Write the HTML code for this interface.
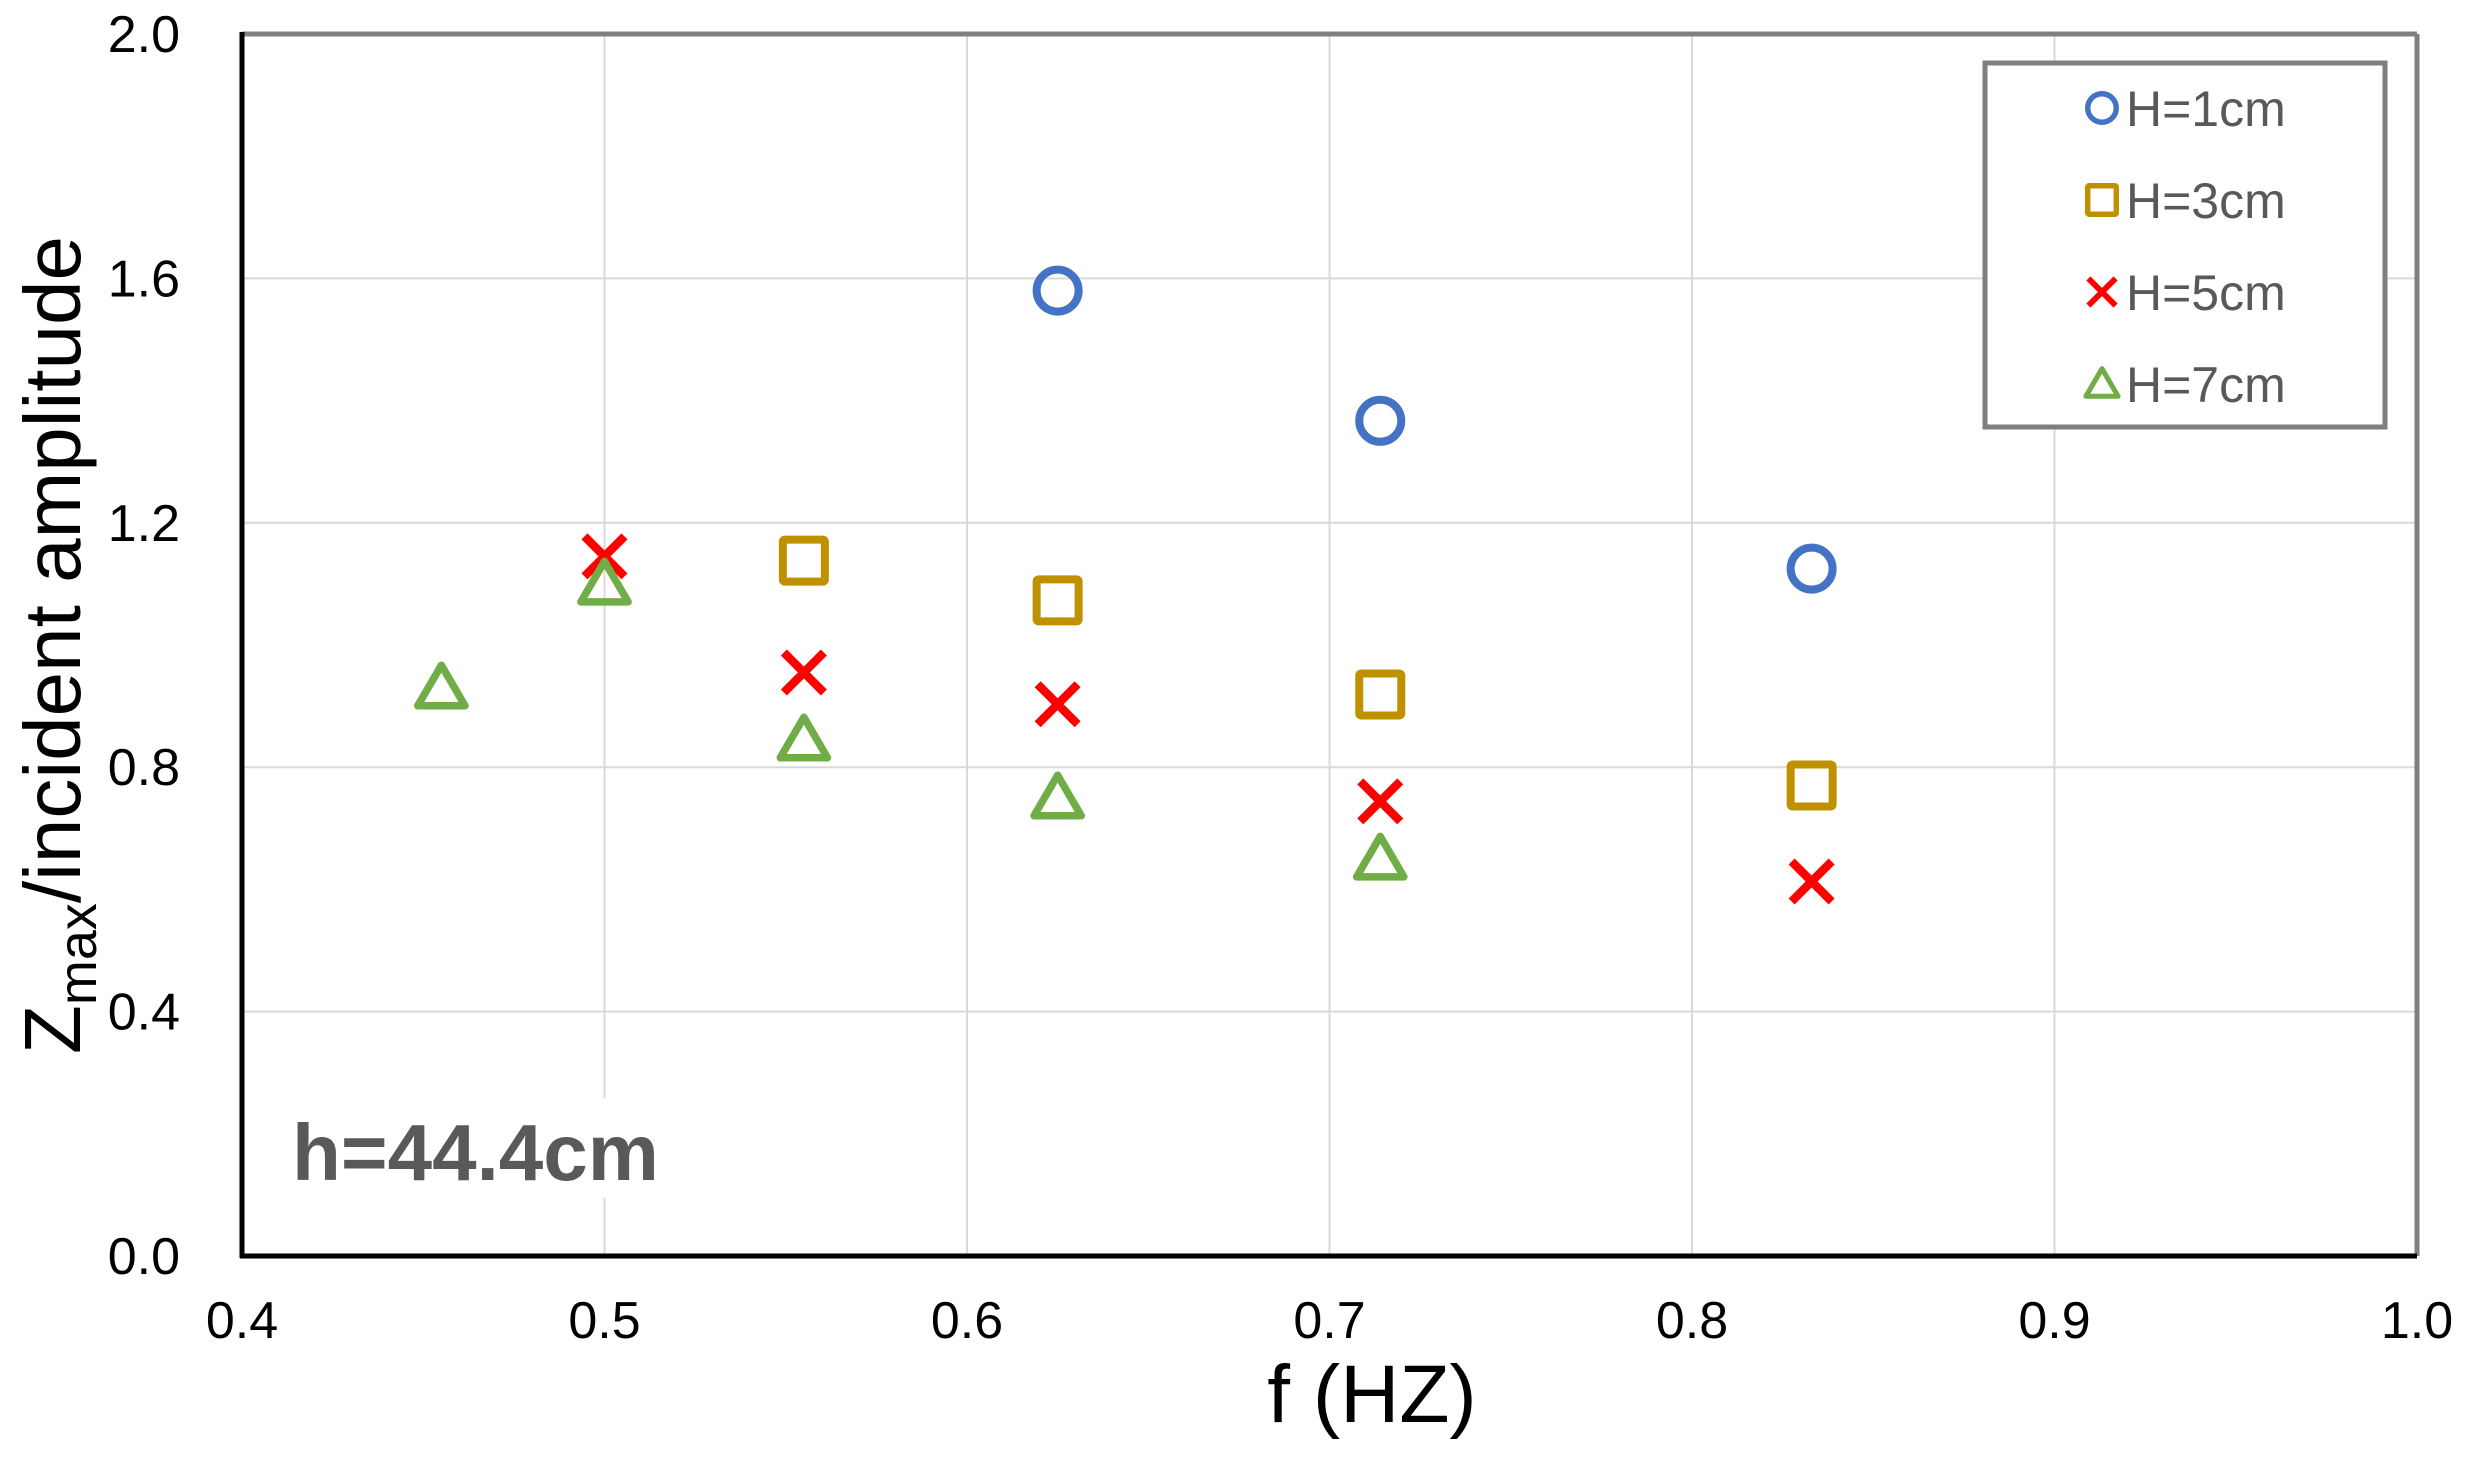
<!DOCTYPE html>
<html><head><meta charset="utf-8"><style>
html,body{margin:0;padding:0;background:#fff;}
svg{display:block;font-family:"Liberation Sans",Arial,sans-serif;}
</style></head><body>
<svg id="chart" width="2470" height="1459" viewBox="0 0 2470 1459" xmlns="http://www.w3.org/2000/svg">
<g id="grid"></g>
<g id="marks"></g>
<g id="axes"></g>
<text x="1372" y="1422" font-size="82" text-anchor="middle" fill="#000">f (HZ)</text>
<text transform="translate(80,645) rotate(-90)" font-size="80" text-anchor="middle" fill="#000">Z<tspan font-size="54" dy="16">max</tspan><tspan dy="-16">/incident amplitude</tspan></text>
<rect x="285" y="1098" width="400" height="100" fill="#fff"/>
<text x="292" y="1180" font-size="80" font-weight="bold" fill="#595959">h=44.4cm</text>
<g id="legend"></g>
</svg>
<script>
const xTicks=[0.4,0.5,0.6,0.7,0.8,0.9,1.0];
const yTicks=[0.0,0.4,0.8,1.2,1.6,2.0];
const seriesNames=["H=1cm","H=3cm","H=5cm","H=7cm"];
const h1X=[0.625,0.714,0.833];
const h1Y=[1.58,1.367,1.125];
const h3X=[0.555,0.625,0.714,0.833];
const h3Y=[1.138,1.073,0.919,0.770];
const h5X=[0.5,0.555,0.625,0.714,0.833];
const h5Y=[1.145,0.955,0.903,0.744,0.613];
const h7X=[0.455,0.5,0.555,0.625,0.714];
const h7Y=[0.930,1.100,0.845,0.750,0.650];

const L=242,R=2417,T=34,B=1256;
const xs=v=>L+(v-0.4)/0.6*(R-L);
const ys=v=>B-v/2*(B-T);
const NS="http://www.w3.org/2000/svg";
function mk(tag,attrs,parent){const e=document.createElementNS(NS,tag);for(const k in attrs)e.setAttribute(k,attrs[k]);parent.appendChild(e);return e;}
const grid=document.getElementById('grid'),axes=document.getElementById('axes'),marks=document.getElementById('marks'),legend=document.getElementById('legend');
xTicks.forEach(t=>{
  const l=mk('line',{x1:xs(t),x2:xs(t),y1:T,y2:B,stroke:'#d9d9d9','stroke-width':2},grid);
  
  
  const tx=mk('text',{x:xs(t),y:1338,'font-size':52,'text-anchor':'middle',fill:'#000'},axes);
  tx.textContent=t.toFixed(1);
  
  
});
yTicks.forEach(t=>{
  const l=mk('line',{x1:L,x2:R,y1:ys(t),y2:ys(t),stroke:'#d9d9d9','stroke-width':2},grid);
  
  
  const tx=mk('text',{x:180,y:ys(t)+18,'font-size':52,'text-anchor':'end',fill:'#000'},axes);
  tx.textContent=t.toFixed(1);
  
  
});
let a;
a=mk('line',{x1:L,x2:R,y1:T,y2:T,stroke:'#7f7f7f','stroke-width':5},axes);
a=mk('line',{x1:R,x2:R,y1:T,y2:B,stroke:'#7f7f7f','stroke-width':5},axes);
a=mk('line',{x1:L,x2:L,y1:T-2,y2:B+2,stroke:'#000','stroke-width':5},axes);
a=mk('line',{x1:L-2,x2:R,y1:B,y2:B,stroke:'#000','stroke-width':5},axes);

function marker(type,cx,cy,s,parent){
  let e;
  if(type===0){e=mk('circle',{cx:cx,cy:cy,r:s*0.42,fill:'none',stroke:'#4472c4','stroke-width':s*0.16},parent);}
  else if(type===1){const h=s*0.42;e=mk('rect',{x:cx-h,y:cy-h,width:2*h,height:2*h,rx:s*0.04,fill:'none',stroke:'#bf9000','stroke-width':s*0.16},parent);}
  else if(type===2){const h=s*0.4;e=mk('path',{d:`M${cx-h},${cy-h}L${cx+h},${cy+h}M${cx+h},${cy-h}L${cx-h},${cy+h}`,stroke:'#ff0000','stroke-width':s*0.17,fill:'none'},parent);}
  else {const h=s*0.45;e=mk('path',{d:`M${cx},${cy-h}L${cx+h*1.05},${cy+h*0.8}L${cx-h*1.05},${cy+h*0.8}Z`,fill:'none',stroke:'#70ad47','stroke-width':s*0.15,'stroke-linejoin':'round'},parent);}
  return e;
}
const allX=[h1X,h3X,h5X,h7X],allY=[h1Y,h3Y,h5Y,h7Y];
allX.forEach((xa,si)=>{xa.forEach((xv,i)=>{
  const e=marker(si,xs(xv),ys(allY[si][i]),50,marks);
  
  
});});

a=mk('rect',{x:1985,y:63,width:400,height:364,fill:'#fff',stroke:'#7f7f7f','stroke-width':5},legend);

seriesNames.forEach((n,i)=>{
  const cy=108+i*92;
  const m=marker(i,2102,cy,34,legend);
  
  
  const t=mk('text',{x:2126,y:cy+18,'font-size':50,fill:'#595959'},legend);
  t.textContent=n;
  
  
});
</script>
</body></html>
